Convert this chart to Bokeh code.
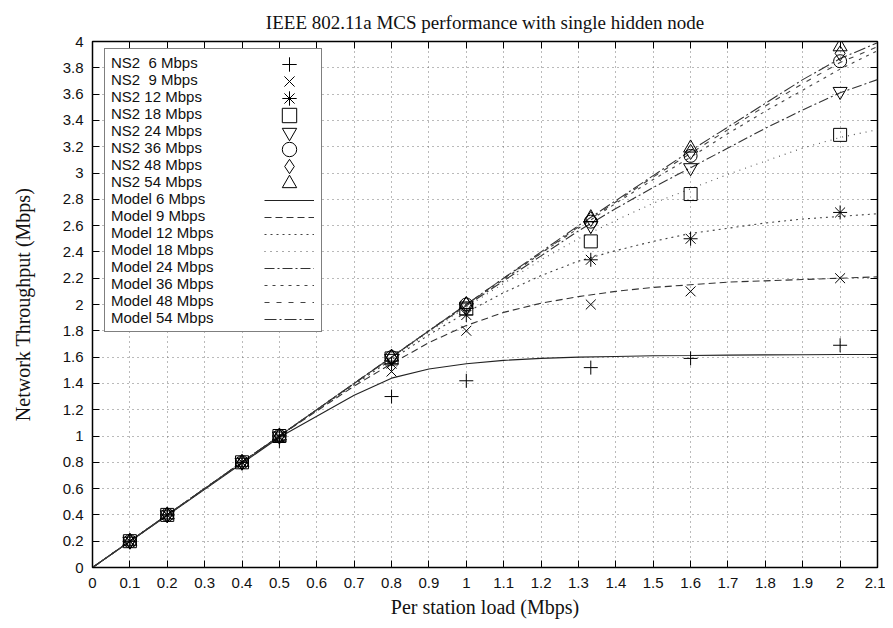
from bokeh.plotting import figure
from bokeh.models import Legend, LegendItem, LinearAxis, Range1d, FixedTicker
from bokeh.embed import file_html
from bokeh.resources import INLINE

# ---------------- data ----------------
x_ticks = [0, 0.1, 0.2, 0.3, 0.4, 0.5, 0.6, 0.7, 0.8, 0.9, 1, 1.1, 1.2, 1.3, 1.4, 1.5, 1.6, 1.7, 1.8, 1.9, 2, 2.1]
x_tick_labels = ["0", "0.1", "0.2", "0.3", "0.4", "0.5", "0.6", "0.7", "0.8", "0.9", "1", "1.1", "1.2",
                 "1.3", "1.4", "1.5", "1.6", "1.7", "1.8", "1.9", "2", "2.1"]
y_ticks = [0, 0.2, 0.4, 0.6, 0.8, 1, 1.2, 1.4, 1.6, 1.8, 2, 2.2, 2.4, 2.6, 2.8, 3, 3.2, 3.4, 3.6, 3.8, 4]
y_tick_labels = ["0", "0.2", "0.4", "0.6", "0.8", "1", "1.2", "1.4", "1.6", "1.8", "2", "2.2", "2.4",
                 "2.6", "2.8", "3", "3.2", "3.4", "3.6", "3.8", "4"]

ns2_x = [0.1, 0.2, 0.4, 0.5, 0.8, 1.0, 1.333, 1.6, 2.0]
ns2_6 = [0.2, 0.4, 0.8, 0.96, 1.30, 1.42, 1.52, 1.59, 1.69]
ns2_9 = [0.2, 0.4, 0.8, 0.99, 1.49, 1.80, 2.00, 2.10, 2.20]
ns2_12 = [0.2, 0.4, 0.8, 1.0, 1.55, 1.92, 2.34, 2.50, 2.70]
ns2_18 = [0.2, 0.4, 0.8, 1.0, 1.59, 1.97, 2.48, 2.84, 3.29]
ns2_24 = [0.2, 0.4, 0.8, 1.0, 1.59, 1.98, 2.60, 3.04, 3.62]
ns2_36 = [0.2, 0.4, 0.8, 1.0, 1.60, 2.00, 2.63, 3.13, 3.85]
ns2_48 = [0.2, 0.4, 0.8, 1.0, 1.60, 2.00, 2.65, 3.16, 3.91]
ns2_54 = [0.2, 0.4, 0.8, 1.0, 1.60, 2.00, 2.66, 3.19, 3.96]

model_x = [0, 0.5, 0.6, 0.7, 0.8, 0.9, 1.0, 1.1, 1.2, 1.3, 1.4, 1.5, 1.6, 1.7, 1.8, 1.9, 2.0, 2.1]
model_6 = [0, 0.99, 1.15, 1.31, 1.44, 1.51, 1.55, 1.575, 1.59, 1.60, 1.605, 1.61, 1.612, 1.615, 1.617, 1.618, 1.62, 1.62]
model_9 = [0, 1.0, 1.19, 1.38, 1.55, 1.71, 1.84, 1.94, 2.01, 2.06, 2.10, 2.13, 2.15, 2.17, 2.18, 2.19, 2.20, 2.21]
model_12 = [0, 1.0, 1.2, 1.39, 1.58, 1.77, 1.94, 2.09, 2.22, 2.33, 2.41, 2.48, 2.54, 2.58, 2.62, 2.65, 2.67, 2.69]
model_18 = [0, 1.0, 1.2, 1.4, 1.59, 1.79, 1.98, 2.16, 2.34, 2.50, 2.64, 2.77, 2.88, 2.99, 3.09, 3.19, 3.27, 3.33]
model_24 = [0, 1.0, 1.2, 1.4, 1.6, 1.8, 1.99, 2.18, 2.37, 2.56, 2.73, 2.89, 3.04, 3.19, 3.34, 3.48, 3.61, 3.71]
model_36 = [0, 1.0, 1.2, 1.4, 1.6, 1.8, 2.0, 2.19, 2.39, 2.58, 2.77, 2.95, 3.12, 3.30, 3.47, 3.63, 3.79, 3.93]
model_48 = [0, 1.0, 1.2, 1.4, 1.6, 1.8, 2.0, 2.2, 2.39, 2.59, 2.78, 2.97, 3.15, 3.33, 3.51, 3.68, 3.84, 3.96]
model_54 = [0, 1.0, 1.2, 1.4, 1.6, 1.8, 2.0, 2.2, 2.40, 2.60, 2.79, 2.98, 3.17, 3.35, 3.53, 3.71, 3.87, 3.99]

ns2_labels = ["NS2  6 Mbps", "NS2  9 Mbps", "NS2 12 Mbps", "NS2 18 Mbps",
              "NS2 24 Mbps", "NS2 36 Mbps", "NS2 48 Mbps", "NS2 54 Mbps"]
model_labels = ["Model 6 Mbps", "Model 9 Mbps", "Model 12 Mbps", "Model 18 Mbps",
                "Model 24 Mbps", "Model 36 Mbps", "Model 48 Mbps", "Model 54 Mbps"]
ns2_series = [ns2_6, ns2_9, ns2_12, ns2_18, ns2_24, ns2_36, ns2_48, ns2_54]
model_series = [model_6, model_9, model_12, model_18, model_24, model_36, model_48, model_54]

# ---------------- styles ----------------
markers = ["cross", "x", "asterisk", "square", "inverted_triangle", "circle", "diamond", "triangle"]
marker_sizes = [14, 14, 14, 13, 14, 13, 15, 14]
dashes = ["solid", "7 4", "2 4", "1 5", "10 3 2 3", "3 5", "5 7", "12 3 2 3"]
line_colors = ["#222222", "#333333", "#444444", "#555555", "#333333", "#444444", "#444444", "#333333"]

SANS = "Liberation Sans"
SERIF = "Liberation Serif"

W, H = 885, 620
B_LEFT, B_RIGHT, B_TOP, B_BOTTOM = 92, 8, 41, 51

p = figure(width=W, height=H, output_backend="svg", toolbar_location=None,
           x_range=Range1d(0, 2.1), y_range=Range1d(0, 4),
           min_border_left=B_LEFT, min_border_right=B_RIGHT, min_border_top=B_TOP,
           min_border_bottom=B_BOTTOM,
           background_fill_color="white", border_fill_color="white")

p.title.text = "IEEE 802.11a MCS performance with single hidden node"
p.title.align = "center"
p.title.text_font = SERIF
p.title.text_font_size = "19px"
p.title.text_font_style = "normal"
p.title.text_color = "#111111"
p.title.standoff = 18

p.outline_line_color = "black"
p.outline_line_width = 1.5

xticker = FixedTicker(ticks=x_ticks)
yticker = FixedTicker(ticks=y_ticks)

for ax in [p.xaxis[0], p.yaxis[0]]:
    ax.axis_line_color = None
    ax.major_tick_in = 7
    ax.major_tick_out = 0
    ax.minor_tick_line_color = None
    ax.major_tick_line_color = "black"
    ax.major_label_text_font = SANS
    ax.major_label_text_font_size = "15px"
    ax.major_label_text_color = "#111111"
    ax.axis_label_text_font = SERIF
    ax.axis_label_text_font_size = "20px"
    ax.axis_label_text_font_style = "normal"
    ax.axis_label_text_color = "#111111"

p.xaxis[0].ticker = xticker
p.yaxis[0].ticker = yticker
p.xaxis[0].major_label_overrides = dict(zip(x_ticks, x_tick_labels))
p.yaxis[0].major_label_overrides = dict(zip(y_ticks, y_tick_labels))
p.xaxis[0].axis_label = "Per station load (Mbps)"
p.yaxis[0].axis_label = "Network Throughput (Mbps)"
p.xaxis[0].major_label_standoff = 10
p.yaxis[0].major_label_standoff = 9
p.xaxis[0].axis_label_standoff = 5
p.yaxis[0].axis_label_standoff = 26

# mirrored ticks on top and right (labels not drawn)
top_ax = LinearAxis(ticker=xticker, axis_line_color=None, major_tick_in=7, major_tick_out=0,
                    minor_tick_line_color=None, major_label_text_font_size="1px",
                    major_label_text_color=None, major_label_standoff=0)
right_ax = LinearAxis(ticker=yticker, axis_line_color=None, major_tick_in=7, major_tick_out=0,
                      minor_tick_line_color=None, major_label_text_font_size="1px",
                      major_label_text_color=None, major_label_standoff=0)
p.add_layout(top_ax, "above")
p.add_layout(right_ax, "right")

p.grid.grid_line_color = "#666666"
p.grid.grid_line_dash = "1 4"
p.grid.grid_line_alpha = 0.9
p.xgrid.ticker = xticker
p.ygrid.ticker = yticker

# ---------------- glyphs ----------------
model_renderers = []
for ys, dash, col in zip(model_series, dashes, line_colors):
    r = p.line(model_x, ys, line_color=col, line_width=1.1, line_dash=dash)
    model_renderers.append(r)

ns2_renderers = []
for ys, mk, sz in zip(ns2_series, markers, marker_sizes):
    r = p.scatter(ns2_x, ys, marker=mk, size=sz, line_color="black", fill_color=None, line_width=1)
    ns2_renderers.append(r)

all_renderers = ns2_renderers + model_renderers
all_labels = ns2_labels + model_labels

# ---------------- legend ----------------
# text column inside a framed box; symbols drawn to the right of the labels
ROW = 17
PAD = 5
LEG_LEFT, LEG_TOP = 12, 11                      # offsets of the box from the frame's top-left
FRAME_H = H - B_TOP - B_BOTTOM
box_h = len(all_labels) * ROW + 2 * PAD
leg_text = Legend(items=[LegendItem(label=l, renderers=[r]) for l, r in zip(all_labels, all_renderers)],
                  location=(LEG_LEFT, FRAME_H - LEG_TOP - box_h),
                  glyph_width=0, glyph_height=ROW, label_height=ROW,
                  label_width=205, label_standoff=1, spacing=0, padding=PAD, margin=0,
                  label_text_font=SANS, label_text_font_size="15px", label_text_color="#111111",
                  border_line_color="black", border_line_width=1.5, background_fill_color="white",
                  background_fill_alpha=1.0)
p.add_layout(leg_text)

GLYPH_BOX = 36
SYM_LEFT = 172
for i, r in enumerate(all_renderers):
    row_center = LEG_TOP + PAD + ROW * i + ROW / 2
    top = row_center - GLYPH_BOX / 2
    lg = Legend(items=[LegendItem(label=" ", renderers=[r])],
                location=(SYM_LEFT, FRAME_H - top - GLYPH_BOX),
                glyph_width=50, glyph_height=GLYPH_BOX, label_height=0, label_width=0,
                label_standoff=0, spacing=0, padding=0, margin=0,
                label_text_font_size="1px", label_text_color=None,
                border_line_color=None, background_fill_alpha=0.0)
    p.add_layout(lg)

open("out.html", "w").write(file_html(p, INLINE))
